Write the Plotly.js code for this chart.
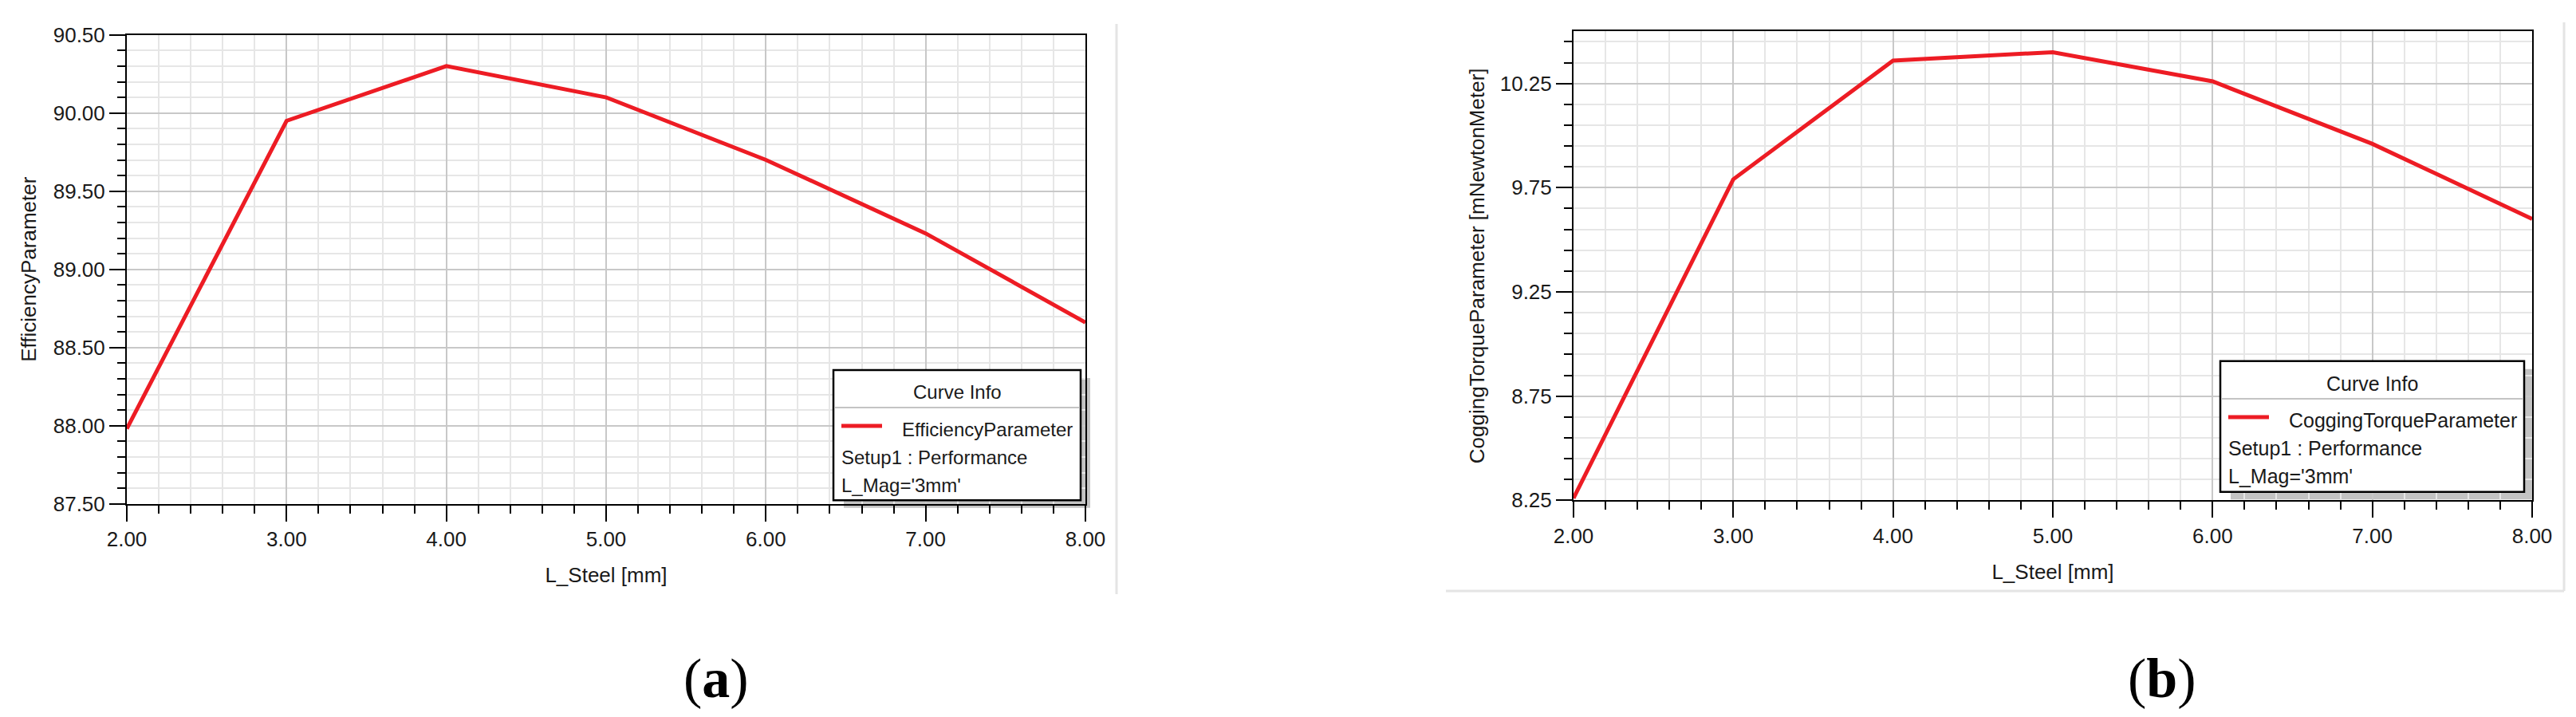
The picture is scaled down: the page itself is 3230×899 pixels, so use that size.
<!DOCTYPE html>
<html>
<head>
<meta charset="utf-8">
<script src="https://cdn.plot.ly/plotly-3.0.1.min.js"></script>
<style>
html,body{margin:0;padding:0;background:#fff;}
#chart{width:3230px;height:899px;}
</style>
</head>
<body>
<div id="chart"></div>
<script>
// ---- data ----
const lSteel = [2, 3, 4, 5, 6, 7, 8];
const efficiency = [87.98, 89.95, 90.30, 90.10, 89.70, 89.23, 88.66];
const cogging = [8.26, 9.79, 10.36, 10.40, 10.26, 9.96, 9.60];

const xTitle = 'L_Steel [mm]';
const yTitleA = 'EfficiencyParameter';
const yTitleB = 'CoggingTorqueParameter [mNewtonMeter]';
const legendHeader = 'Curve Info';
const legendNameA = 'EfficiencyParameter';
const legendNameB = 'CoggingTorqueParameter';
const legendSetup = 'Setup1 : Performance';
const legendMag = "L_Mag='3mm'";
const panelLabels = ['a', 'b'];

// ---- layout helpers ----
const W = 3230, H = 899;
const PX = v => v / W;
const PY = v => 1 - v / H;
const RED = '#ed1c24';
const FONT = 'Liberation Sans, Arial, sans-serif';

function xAxis(domain) {
  return {
    domain: domain, range: [2, 8], dtick: 1, tick0: 2, tickformat: '.2f',
    showline: true, linecolor: '#000', linewidth: 2, mirror: true,
    ticks: 'outside', ticklen: 20, tickwidth: 2, tickcolor: '#000',
    showgrid: true, gridcolor: '#c8c8c8', gridwidth: 2, zeroline: false,
    minor: {dtick: 0.2, tick0: 2, ticks: 'outside', ticklen: 10, tickwidth: 2, tickcolor: '#000',
            showgrid: true, gridcolor: '#e6e6e6', gridwidth: 2},
    tickfont: {family: FONT, size: 26, color: '#1a1a1a'},
    title: {text: xTitle, font: {family: FONT, size: 26, color: '#1a1a1a'}, standoff: 22},
    fixedrange: true
  };
}
function yAxis(domain, range, tick0, anchor) {
  return {
    domain: domain, range: range, dtick: 0.5, tick0: tick0, tickformat: '.2f',
    anchor: anchor,
    showline: true, linecolor: '#000', linewidth: 2, mirror: true,
    ticks: 'outside', ticklen: 20, tickwidth: 2, tickcolor: '#000',
    showgrid: true, gridcolor: '#c8c8c8', gridwidth: 2, zeroline: false,
    minor: {dtick: 0.1, tick0: tick0, ticks: 'outside', ticklen: 10, tickwidth: 2, tickcolor: '#000',
            showgrid: true, gridcolor: '#e6e6e6', gridwidth: 2},
    tickfont: {family: FONT, size: 26, color: '#1a1a1a'},
    fixedrange: true
  };
}

const traces = [
  {x: lSteel, y: efficiency, xaxis: 'x', yaxis: 'y', type: 'scatter', mode: 'lines',
   line: {color: RED, width: 5}, name: legendNameA, showlegend: false, hoverinfo: 'skip'},
  {x: lSteel, y: cogging, xaxis: 'x2', yaxis: 'y2', type: 'scatter', mode: 'lines',
   line: {color: RED, width: 5}, name: legendNameB, showlegend: false, hoverinfo: 'skip'}
];

const ya = yAxis([PY(631.7), PY(43.7)], [87.5, 90.5], 87.5, 'x');
ya.title = {text: yTitleA, font: {family: FONT, size: 26, color: '#1a1a1a'}, standoff: 14};
const yb = yAxis([PY(627.3), PY(39.3)], [8.25, 10.5], 8.25, 'x2');
yb.title = {text: yTitleB, font: {family: FONT, size: 26, color: '#1a1a1a'}, standoff: 12};

const xa = xAxis([PX(159), PX(1361)]); xa.anchor = 'y';
const xb = xAxis([PX(1973), PX(3175)]); xb.anchor = 'y2';

// custom "Curve Info" boxes
function legendBox(b, name, fs) {
  const shapes = [
    {type: 'rect', xref: 'paper', yref: 'paper', layer: 'below',
     x0: PX(b.x0 + 13), x1: PX(b.x1 + 12), y0: PY(b.y1 + 9.5), y1: PY(b.y0 + 10),
     fillcolor: '#c3c3c3', line: {width: 0}},
    {type: 'rect', xref: 'paper', yref: 'paper', layer: 'above',
     x0: PX(b.x0), x1: PX(b.x1), y0: PY(b.y1), y1: PY(b.y0),
     fillcolor: '#ffffff', line: {color: '#000', width: 2.5}},
    {type: 'line', xref: 'paper', yref: 'paper', layer: 'above',
     x0: PX(b.x0 + 1), x1: PX(b.x1 - 1), y0: PY(b.sep), y1: PY(b.sep),
     line: {color: '#c4c4c4', width: 2}},
    {type: 'line', xref: 'paper', yref: 'paper', layer: 'above',
     x0: PX(b.x0 + 10), x1: PX(b.x0 + 61), y0: PY(b.r1 - 4), y1: PY(b.r1 - 4),
     line: {color: RED, width: 5}}
  ];
  const f = {family: FONT, size: fs, color: '#1a1a1a'};
  const ann = [
    {xref: 'paper', yref: 'paper', x: PX((b.x0 + b.x1) / 2), y: PY(b.head), text: legendHeader,
     showarrow: false, xanchor: 'center', yanchor: 'middle', font: f},
    {xref: 'paper', yref: 'paper', x: PX(b.x0 + 84), y: PY(b.r1), text: name,
     showarrow: false, xanchor: 'left', yanchor: 'middle', font: f},
    {xref: 'paper', yref: 'paper', x: PX(b.x0 + 8), y: PY(b.r2), text: legendSetup,
     showarrow: false, xanchor: 'left', yanchor: 'middle', font: f},
    {xref: 'paper', yref: 'paper', x: PX(b.x0 + 8), y: PY(b.r3), text: legendMag,
     showarrow: false, xanchor: 'left', yanchor: 'middle', font: f}
  ];
  return {shapes, ann};
}
const la = legendBox({x0: 1045, x1: 1355, y0: 464, y1: 627.3, sep: 511, head: 491.7, r1: 538, r2: 573, r3: 608}, legendNameA, 24);
const lb = legendBox({x0: 2784, x1: 3165, y0: 452.7, y1: 616.7, sep: 500, head: 481, r1: 527, r2: 562, r3: 597}, legendNameB, 25);

// light panel frame lines
const frames = [
  {type: 'line', xref: 'paper', yref: 'paper', x0: PX(1400), x1: PX(1400), y0: PY(30), y1: PY(745),
   line: {color: '#e4e4e4', width: 3}},
  {type: 'line', xref: 'paper', yref: 'paper', x0: PX(3215), x1: PX(3215), y0: PY(28), y1: PY(741),
   line: {color: '#e4e4e4', width: 3}},
  {type: 'line', xref: 'paper', yref: 'paper', x0: PX(1813), x1: PX(3215), y0: PY(741), y1: PY(741),
   line: {color: '#e4e4e4', width: 3}}
];

const panelAnn = [
  {xref: 'paper', yref: 'paper', x: PX(898), y: PY(850), text: '(<b>' + panelLabels[0] + '</b>)',
   showarrow: false, xanchor: 'center', yanchor: 'middle',
   font: {family: 'Liberation Serif, Times New Roman, serif', size: 70, color: '#000'}},
  {xref: 'paper', yref: 'paper', x: PX(2711), y: PY(850), text: '(<b>' + panelLabels[1] + '</b>)',
   showarrow: false, xanchor: 'center', yanchor: 'middle',
   font: {family: 'Liberation Serif, Times New Roman, serif', size: 70, color: '#000'}}
];

const layout = {
  width: W, height: H,
  margin: {l: 0, r: 0, t: 0, b: 0},
  paper_bgcolor: '#ffffff', plot_bgcolor: '#ffffff',
  showlegend: false,
  xaxis: xa, yaxis: ya, xaxis2: xb, yaxis2: yb,
  shapes: frames.concat(la.shapes, lb.shapes),
  annotations: la.ann.concat(lb.ann, panelAnn),
  font: {family: FONT}
};

Plotly.newPlot('chart', traces, layout, {staticPlot: true, displayModeBar: false});
</script>
</body>
</html>
